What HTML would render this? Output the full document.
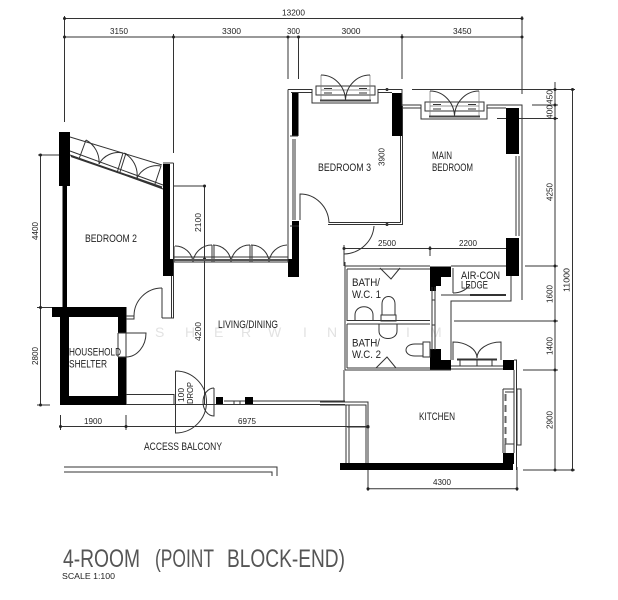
<!DOCTYPE html>
<html><head><meta charset="utf-8"><style>
html,body{margin:0;padding:0;background:#fff;width:618px;height:600px;overflow:hidden}
svg{display:block;filter:blur(0.35px)}
text{font-family:"Liberation Sans",sans-serif;fill:#222;font-size:9px}
.d{font-size:8.5px}
.r{font-size:11px}
</style></head><body>
<svg width="618" height="600" viewBox="0 0 618 600" xmlns="http://www.w3.org/2000/svg">
<defs>
<g id="dbl" fill="none" stroke="#333" stroke-width="1">
<rect x="0" y="0" width="59" height="9" fill="#fff"/>
<path d="M5 -11V15M54 -11V15M5 4H54" stroke-width="0.7" stroke="#777"/>
<path d="M5 -11A24.500 26 0 0 1 29.500 15A24.500 26 0 0 1 54 -11"/>
<path d="M8 2.500H16M8 7H16M43 2.500H51M43 7H51"/>
<path d="M4 14.500H55" stroke-width="2" stroke="#444"/>
</g>
</defs>

<!-- watermark -->
<g>
<text x="155" y="337" style="fill:#e2e2e2;font-size:14px">S</text><text x="185" y="337" style="fill:#e2e2e2;font-size:14px">H</text><text x="214" y="337" style="fill:#e2e2e2;font-size:14px">E</text><text x="241" y="337" style="fill:#e2e2e2;font-size:14px">R</text><text x="268" y="337" style="fill:#e2e2e2;font-size:14px">W</text><text x="303" y="337" style="fill:#e2e2e2;font-size:14px">I</text><text x="327" y="337" style="fill:#e2e2e2;font-size:14px">N</text><text x="406" y="337" style="fill:#e2e2e2;font-size:14px">I</text><text x="430" y="337" style="fill:#e2e2e2;font-size:14px">M</text>
</g>

<!-- dimension lines -->
<g fill="none" stroke="#333" stroke-width="1">
<path d="M64.500 18.500H522M64.500 37H522"/>
<path d="M64.500 16V122M173.500 34V153M288 37V79M298.500 37V79M402 34V79M522 16V94"/>
<path d="M204.500 186V405M174 186H206"/>
<path d="M40.500 155V405M38 155H60M37 307.500H52M37 405H50"/>
<path d="M60.500 426.500H368M60.500 415V430M126 415V430"/>
<path d="M555 82V470M572.500 89V470M412 89.500H575M532 105H558M497 118.500H558M525 266H558M454 321H558M523 370H558M523 470H575"/>
<path d="M368 488.700H517M517 467V491M368 470V491"/>
<path d="M344 248.500H506M430 246V256M344 245V262"/>
<path d="M64 467H277V476M64 472H272V476"/>
</g>
<g fill="#222">
<circle cx="64.500" cy="18.500" r="1.500"/><circle cx="522" cy="18.500" r="1.500"/><circle cx="64.500" cy="37" r="1.500"/><circle cx="173.500" cy="37" r="1.500"/><circle cx="288" cy="37" r="1.500"/><circle cx="298.500" cy="37" r="1.500"/><circle cx="402" cy="37" r="1.500"/><circle cx="522" cy="37" r="1.500"/>
<circle cx="204.500" cy="186" r="1.500"/><circle cx="204.500" cy="259" r="1.500"/><circle cx="40.500" cy="155" r="1.500"/><circle cx="40.500" cy="307.500" r="1.500"/><circle cx="40.500" cy="405" r="1.500"/>
<circle cx="60.500" cy="426.500" r="1.500"/><circle cx="126" cy="426.500" r="1.500"/><circle cx="368" cy="427" r="1.500"/>
<circle cx="555" cy="89.500" r="1.500"/><circle cx="572.500" cy="89.500" r="1.500"/><circle cx="555" cy="105" r="1.500"/><circle cx="555" cy="118.500" r="1.500"/><circle cx="555" cy="266" r="1.500"/><circle cx="555" cy="321" r="1.500"/><circle cx="555" cy="370" r="1.500"/><circle cx="555" cy="470" r="1.500"/><circle cx="572.500" cy="470" r="1.500"/>
<circle cx="368" cy="488.700" r="1.500"/><circle cx="517" cy="488.700" r="1.500"/><circle cx="344" cy="248.500" r="1.500"/><circle cx="430" cy="248.500" r="1.500"/><circle cx="387" cy="89.500" r="1.500"/><circle cx="387" cy="224.500" r="1.500"/>
</g>

<!-- solid walls -->
<g fill="#000">
<rect x="59" y="132" width="11" height="54"/>
<rect x="62.500" y="186" width="4.500" height="122"/>
<rect x="163" y="164" width="7" height="112"/>
<rect x="163" y="259" width="11" height="17"/>
<rect x="292" y="93" width="6.500" height="43"/>
<rect x="292" y="221" width="7" height="40"/>
<rect x="288" y="259" width="11" height="18"/>
<rect x="392" y="93" width="10" height="43"/>
<rect x="506" y="108" width="13" height="46"/>
<rect x="506" y="238" width="13" height="38"/>
<path d="M52 307H126.500V405H60V317H52Z"/>
<path d="M430 266.500H451V277H441V286H436V291H430Z"/>
<path d="M430 349H441V360H451V370H430Z"/>
<rect x="503" y="360" width="11" height="10"/>
<rect x="503" y="453" width="11" height="11"/>
<rect x="340" y="463" width="173" height="7"/>
<rect x="216" y="397" width="7" height="7"/>
<rect x="245" y="397" width="8" height="7"/>
</g>
<rect x="69" y="317" width="49" height="79" fill="#fff"/>
<rect x="118" y="333" width="8.500" height="24" fill="#fff"/>

<g fill="none" stroke="#333" stroke-width="1">
<!-- Bedroom 2 slanted window -->
<path d="M70 137L162 165M70 155L163 189M70 151L163 185"/>
<path d="M79 159L86 140M117 173L123 153M155 184L161 166M120 172L126 153"/>
<path d="M86 140A25 25 0 0 1 99 164M99 164A22 22 0 0 1 123 153M124 153A25 25 0 0 1 137 178M137 178A22 22 0 0 1 161 166"/>
<path d="M71 156L162 187.500" stroke-width="2"/>
<!-- living window bottom -->
<path d="M174 246V262M288 246V262M174 257H288M174 262H288M212 245V262M214 245V262M250 245V262M252 245V262"/>
<path d="M175 246A18 18 0 0 1 193 262M193 262A19 19 0 0 1 212 245M213 245A18 18 0 0 1 231 262M231 262A19 19 0 0 1 250 245M251 245A18 18 0 0 1 269 262M269 262A19 19 0 0 1 287 245"/>
<path d="M174 260H288" stroke-width="2" stroke="#555"/>
<!-- vertical wall between -->
<path d="M173.500 163V318M163 163H173.500M171.500 276V318M162 318H173.500V315M162 288V318"/>
<path d="M134 316A28 28 0 0 1 162 288"/>
<path d="M126 316H134V319H126"/>
<!-- shelter door -->
<path d="M118 333H146A20 24 0 0 1 126 357"/>
<path d="M126 333V357M118 333V357M118 357H126"/>
<!-- bedroom 3 -->
<path d="M288 89.500H312V103H378V89.500H402V106M288 89.500V261M291 92.500H312M378 92.500H392"/>
<path d="M293 139V220M295 139V220M290 136H298M290 226H299"/>
<path d="M300 220V194A29 30 0 0 1 329 222.500H400.500M400.500 136V222.500M402.500 106V224.500H328"/>
<path d="M344 254A31 30 0 0 0 374 226"/>
<path d="M344 245V266"/>
<!-- main bedroom -->
<path d="M402 105H421V119H487V105H522V276M402 108H421M487 108H506"/>
<path d="M519 156V236M516 156V236" />
<path d="M522 276V300"/>
<!-- baths -->
<path d="M345 262V370M347 269V321M347 324V368M345 266H430M347 269H430M347 320.500H430M347 324H430M347 368H430M345 370H451"/>
<path d="M380 268L391 279L400 268M376 368L387 357L396 368"/>
<path d="M355 321V315C355 304 373 304 373 315V321"/>
<path d="M382 315V304C382 294 395 294 395 304V315M381 315H396V321H381Z"/>
<path d="M379 324V331C379 341 397 341 397 331V324"/>
<path d="M423 344H415C403 344 403 356 415 356H423M423 342H430V357H423Z"/>
<path d="M432 287V350M435 287V350M432 300H435M432 325H435"/>
<!-- air-con -->
<path d="M451 266H506M453 268V293M453 293A22 22 0 0 0 470 285M441 295H506M511 276V301H451V360"/>
<path d="M470 295H506" stroke-width="2"/>
<!-- kitchen window/door -->
<path d="M453 360V342A24 16 0 0 1 477 358M477 358A24 16 0 0 1 501 342V360"/>
<path d="M457 359H497M460 359V366M477 359V366M492 359V366M451 366H503M451 369H503"/>
<path d="M457 359.500H497" stroke-width="2"/>
<path d="M514 360H516.500V463M514 370V453"/>
<rect x="517" y="389" width="4" height="56"/>
<path d="M503 389V453M503 389H514M505 392H514M505 444H514M505 444V453"/>
<path d="M505.500 394V444" stroke-dasharray="7 4" stroke-width="2" stroke="#666"/>
<path d="M516.500 463V470"/>
<!-- kitchen left -->
<path d="M344 370V402M320 402H368V463M320 405H366V463M346 405V463M349 405V463M347 427H368"/>
<path d="M224 401H245M234 401V404M240 401V404M253 401H345M126 404.500H345M126 394.500H174V405"/>
<!-- drop door -->
<path d="M175.500 371V433A31 31 0 0 0 175.500 371"/>
<path d="M214 388V416A11 14 0 0 1 214 388"/>
<path d="M126 404.500H175"/>
</g>
<circle cx="368" cy="426.500" r="1.500" fill="#222"/>

<use href="#dbl" x="316" y="86"/>
<use href="#dbl" x="425" y="102"/>

<!-- dim text -->
<g class="d">
<text class="d" x="282" y="15.500" textLength="23" lengthAdjust="spacingAndGlyphs">13200</text>
<text class="d" x="110" y="34" textLength="18" lengthAdjust="spacingAndGlyphs">3150</text>
<text class="d" x="222" y="34" textLength="19" lengthAdjust="spacingAndGlyphs">3300</text>
<text class="d" x="287" y="34" textLength="13" lengthAdjust="spacingAndGlyphs">300</text>
<text class="d" x="341.500" y="34" textLength="19" lengthAdjust="spacingAndGlyphs">3000</text>
<text class="d" x="453" y="34" textLength="18.500" lengthAdjust="spacingAndGlyphs">3450</text>
<text class="d" x="378" y="246" textLength="18" lengthAdjust="spacingAndGlyphs">2500</text>
<text class="d" x="459" y="246" textLength="18" lengthAdjust="spacingAndGlyphs">2200</text>
<text class="d" x="433" y="485" textLength="18" lengthAdjust="spacingAndGlyphs">4300</text>
<text class="d" x="84" y="424" textLength="18" lengthAdjust="spacingAndGlyphs">1900</text>
<text class="d" x="238" y="424" textLength="18" lengthAdjust="spacingAndGlyphs">6975</text>
<text class="d" transform="translate(38,240) rotate(-90)" textLength="18" lengthAdjust="spacingAndGlyphs">4400</text>
<text class="d" transform="translate(38,365) rotate(-90)" textLength="18" lengthAdjust="spacingAndGlyphs">2800</text>
<text class="d" transform="translate(201,232) rotate(-90)" textLength="19" lengthAdjust="spacingAndGlyphs">2100</text>
<text class="d" transform="translate(201,341) rotate(-90)" textLength="19" lengthAdjust="spacingAndGlyphs">4200</text>
<text class="d" transform="translate(384.500,166) rotate(-90)" textLength="18" lengthAdjust="spacingAndGlyphs">3900</text>
<text class="d" transform="translate(552.500,104) rotate(-90)" textLength="14" lengthAdjust="spacingAndGlyphs">450</text>
<text class="d" transform="translate(552.500,119) rotate(-90)" textLength="14" lengthAdjust="spacingAndGlyphs">400</text>
<text class="d" transform="translate(552.500,201) rotate(-90)" textLength="18" lengthAdjust="spacingAndGlyphs">4250</text>
<text class="d" transform="translate(552.500,303) rotate(-90)" textLength="18" lengthAdjust="spacingAndGlyphs">1600</text>
<text class="d" transform="translate(552.500,355) rotate(-90)" textLength="18" lengthAdjust="spacingAndGlyphs">1400</text>
<text class="d" transform="translate(552.500,429) rotate(-90)" textLength="18" lengthAdjust="spacingAndGlyphs">2900</text>
<text class="d" transform="translate(569.500,292) rotate(-90)" textLength="24" lengthAdjust="spacingAndGlyphs">11000</text>
<text class="d" transform="translate(184,402) rotate(-90)" textLength="14" lengthAdjust="spacingAndGlyphs">100</text>
<text class="d" transform="translate(193,404) rotate(-90)" textLength="22" lengthAdjust="spacingAndGlyphs">DROP</text>
</g>

<!-- labels -->
<text class="r" x="85" y="242" textLength="52" lengthAdjust="spacingAndGlyphs">BEDROOM 2</text>
<text class="r" x="318" y="171" textLength="53" lengthAdjust="spacingAndGlyphs">BEDROOM 3</text>
<text class="r" x="432" y="159" textLength="20" lengthAdjust="spacingAndGlyphs">MAIN</text>
<text class="r" x="432" y="171" textLength="41" lengthAdjust="spacingAndGlyphs">BEDROOM</text>
<text class="r" x="218" y="328" textLength="60" lengthAdjust="spacingAndGlyphs">LIVING/DINING</text>
<text class="r" x="69" y="355.500" textLength="52" lengthAdjust="spacingAndGlyphs">HOUSEHOLD</text>
<text class="r" x="69" y="367.500" textLength="38" lengthAdjust="spacingAndGlyphs">SHELTER</text>
<text class="r" x="144" y="450" textLength="78" lengthAdjust="spacingAndGlyphs">ACCESS BALCONY</text>
<text class="r" x="352" y="286" textLength="28" lengthAdjust="spacingAndGlyphs">BATH/</text>
<text class="r" x="352" y="298" textLength="29" lengthAdjust="spacingAndGlyphs">W.C. 1</text>
<text class="r" x="352" y="346.500" textLength="28" lengthAdjust="spacingAndGlyphs">BATH/</text>
<text class="r" x="352" y="358" textLength="29" lengthAdjust="spacingAndGlyphs">W.C. 2</text>
<text class="r" x="461" y="279" textLength="39" lengthAdjust="spacingAndGlyphs">AIR-CON</text>
<text class="r" x="461" y="288.500" textLength="27" lengthAdjust="spacingAndGlyphs">LEDGE</text>
<text class="r" x="419" y="420" textLength="36" lengthAdjust="spacingAndGlyphs">KITCHEN</text>

<text x="63" y="567" style="font-size:25px;fill:#555" textLength="77" lengthAdjust="spacingAndGlyphs">4-ROOM</text>
<text x="155" y="567" style="font-size:25px;fill:#555" textLength="59" lengthAdjust="spacingAndGlyphs">(POINT</text>
<text x="227" y="567" style="font-size:25px;fill:#555" textLength="118" lengthAdjust="spacingAndGlyphs">BLOCK-END)</text>
<text x="62" y="579" style="font-size:8px" textLength="53" lengthAdjust="spacingAndGlyphs">SCALE  1:100</text>
</svg>
</body></html>
